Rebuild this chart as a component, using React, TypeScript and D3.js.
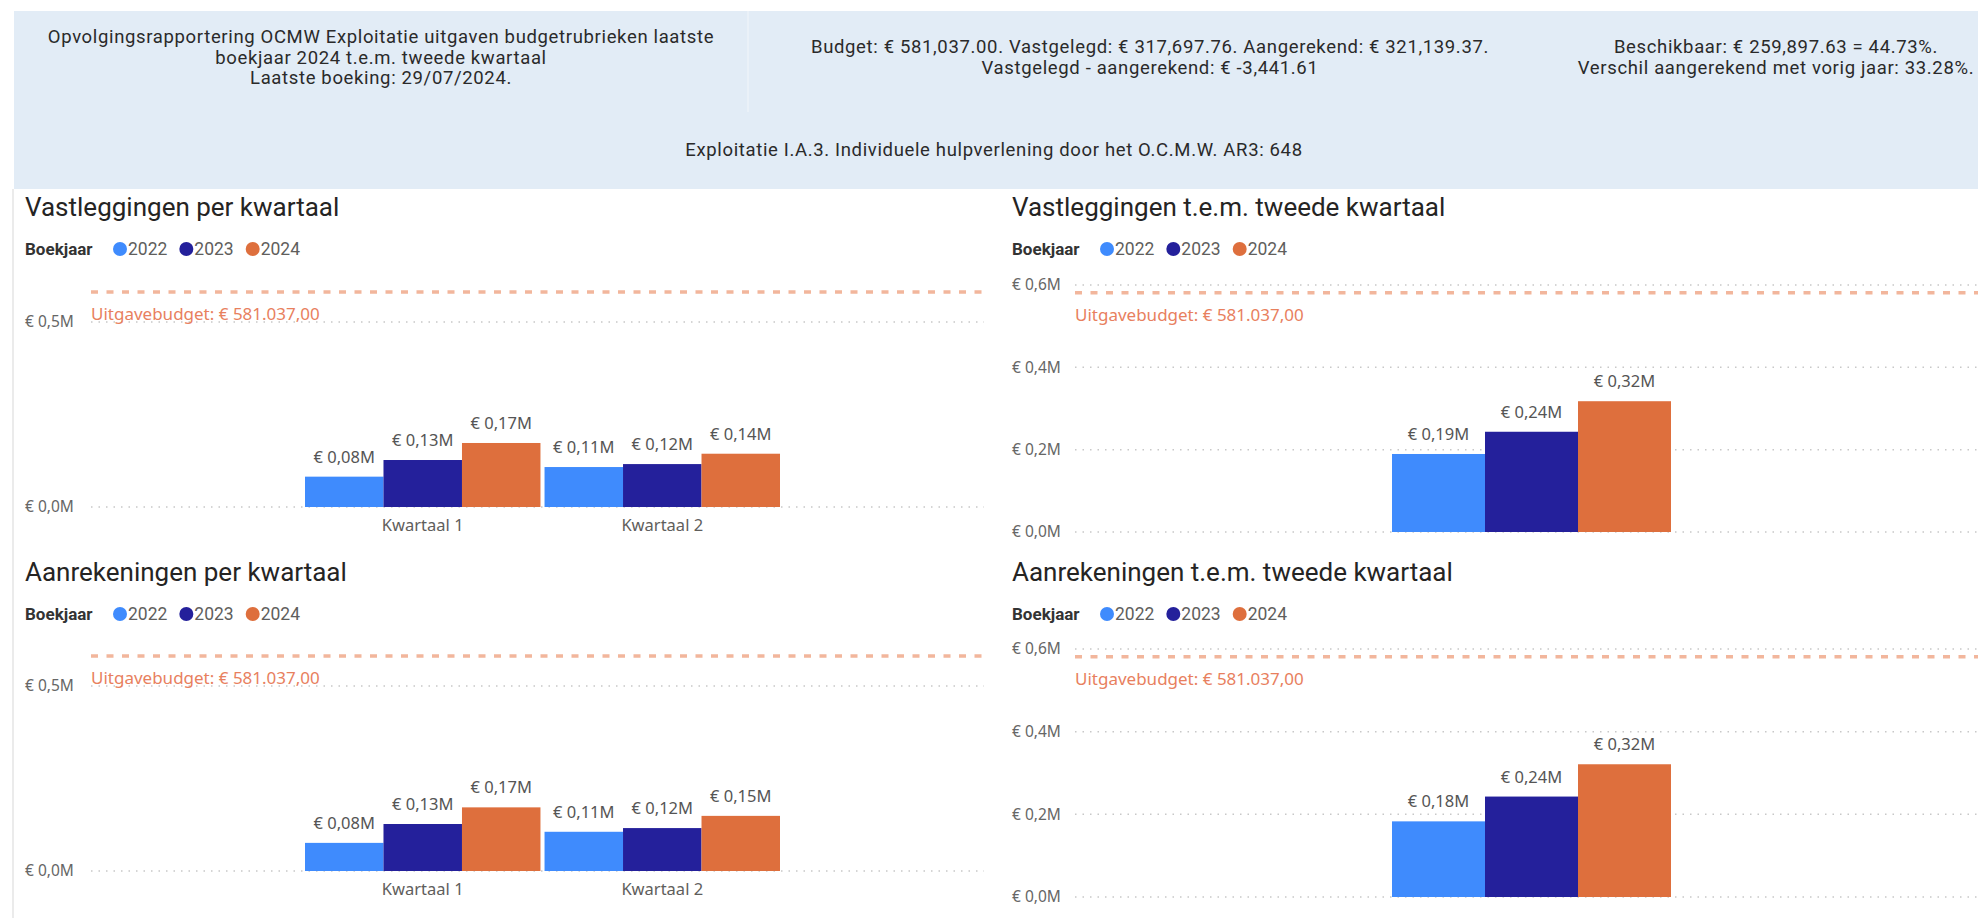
import React, { useEffect, useRef } from 'react';
import * as d3 from 'd3';

// --- data (euro) ---
const YEARS = ['2022', '2023', '2024'];
const QUARTERS = ['Kwartaal 1', 'Kwartaal 2'];
const TOTAL_CAT = ['t.e.m. Kwartaal 2'];
const COLORS = ['#3f8bfd', '#24209b', '#de6f3d'];

const BUDGET = 581037;

// vastleggingen per kwartaal (per year: Q1, Q2)
const vast2022 = [82000, 108000];
const vast2023 = [127000, 116000];
const vast2024 = [173000, 144000];
// vastleggingen t.e.m. tweede kwartaal (2022, 2023, 2024)
const vastTotal = [189500, 243500, 317698];

// aanrekeningen per kwartaal
const aanr2022 = [76000, 106000];
const aanr2023 = [127000, 116000];
const aanr2024 = [172000, 149000];
// aanrekeningen t.e.m. tweede kwartaal
const aanrTotal = [183000, 243000, 321139];

const TICKS_QUARTER = [0, 500000];
const TICKS_TOTAL = [0, 200000, 400000, 600000];

const HEADER_LEFT = [
  'Opvolgingsrapportering OCMW Exploitatie uitgaven budgetrubrieken laatste',
  'boekjaar 2024 t.e.m. tweede kwartaal',
  'Laatste boeking: 29/07/2024.',
];
const HEADER_MID = [
  'Budget: € 581,037.00. Vastgelegd: € 317,697.76. Aangerekend: € 321,139.37.',
  'Vastgelegd - aangerekend: € -3,441.61',
];
const HEADER_RIGHT = [
  'Beschikbaar: € 259,897.63 = 44.73%.',
  'Verschil aangerekend met vorig jaar: 33.28%.',
];
const HEADER_BOTTOM = 'Exploitatie I.A.3. Individuele hulpverlening door het O.C.M.W. AR3: 648';

const W = 1978;
const H = 918;
const DIN = '"DIN", "Roboto", "Liberation Sans", sans-serif';
const SEGOE = '"Segoe UI", "Noto Sans", "Open Sans", sans-serif';

const fmtLabel = (v) => '€ ' + (v / 1e6).toFixed(2).replace('.', ',') + 'M';
const fmtTick = (v) => '€ ' + (v / 1e6).toFixed(1).replace('.', ',') + 'M';
const fmtBudget = (v) => 'Uitgavebudget: € ' + d3.format(',.2f')(v).replace(/,/g, '#').replace('.', ',').replace(/#/g, '.');

function drawPanel(svg, cfg) {
  const g = svg.append('g');

  g.append('text')
    .attr('x', cfg.left)
    .attr('y', cfg.titleY)
    .attr('font-family', DIN)
    .attr('font-size', 26)
    .attr('fill', '#252423')
    .text(cfg.title);

  // legend
  const leg = g.append('g').attr('transform', `translate(${cfg.left},${cfg.legendY})`);
  leg.append('text')
    .attr('x', 0).attr('y', 6)
    .attr('font-family', DIN).attr('font-weight', 'bold').attr('font-size', 17)
    .attr('fill', '#333').text('Boekjaar');
  let lx = 95;
  YEARS.forEach((yr, i) => {
    leg.append('circle').attr('cx', lx).attr('cy', 0).attr('r', 7).attr('fill', COLORS[i]);
    const t = leg.append('text')
      .attr('x', lx + 8).attr('y', 6)
      .attr('font-family', DIN).attr('font-size', 17.5).attr('fill', '#605e5c').text(yr);
    const w = (t.node() as SVGTextElement).getComputedTextLength();
    lx += 8 + w + 19;
  });

  const y = d3.scaleLinear().domain([0, cfg.yMax]).range([cfg.yBase, cfg.yTopPx]);

  // gridlines + tick labels
  cfg.ticks.forEach((tk) => {
    g.append('line')
      .attr('x1', cfg.plotLeft).attr('x2', cfg.plotRight)
      .attr('y1', y(tk)).attr('y2', y(tk))
      .attr('stroke', '#c8c8c8').attr('stroke-width', 1.5).attr('stroke-dasharray', '1.5 6');
    g.append('text')
      .attr('x', cfg.left).attr('y', y(tk)).attr('dy', '0.35em')
      .attr('font-family', SEGOE).attr('font-size', 15.5).attr('fill', '#666')
      .text(fmtTick(tk));
  });

  // budget line
  g.append('line')
    .attr('x1', cfg.plotLeft).attr('x2', cfg.plotRight)
    .attr('y1', y(BUDGET)).attr('y2', y(BUDGET))
    .attr('stroke', '#f2b69c').attr('stroke-width', 3.5).attr('stroke-dasharray', '7 8.5');
  g.append('text')
    .attr('x', cfg.plotLeft).attr('y', y(BUDGET) + 28)
    .attr('font-family', SEGOE).attr('font-size', 17).attr('fill', '#e8805e')
    .text(fmtBudget(BUDGET));

  // bars
  const x0 = d3.scaleBand().domain(cfg.categories).range(cfg.barRange).paddingInner(cfg.categories.length > 1 ? 0.017 : 0);
  const x1 = d3.scaleBand().domain(YEARS).range([0, x0.bandwidth()]);

  const rows = [];
  cfg.categories.forEach((cat, ci) => {
    YEARS.forEach((yr, yi) => {
      rows.push({ cat, yr, yi, value: cfg.values[yi][ci] });
    });
  });

  g.selectAll('rect.bar')
    .data(rows)
    .enter().append('rect')
    .attr('class', 'bar')
    .attr('x', (d) => x0(d.cat) + x1(d.yr))
    .attr('y', (d) => y(d.value))
    .attr('width', x1.bandwidth())
    .attr('height', (d) => y(0) - y(d.value))
    .attr('fill', (d) => COLORS[d.yi]);

  g.selectAll('text.lbl')
    .data(rows)
    .enter().append('text')
    .attr('class', 'lbl')
    .attr('x', (d) => x0(d.cat) + x1(d.yr) + x1.bandwidth() / 2)
    .attr('y', (d) => y(d.value) - 14)
    .attr('text-anchor', 'middle')
    .attr('font-family', SEGOE).attr('font-size', 16.5).attr('fill', '#555')
    .text((d) => fmtLabel(d.value));

  if (cfg.showCats) {
    cfg.categories.forEach((cat) => {
      g.append('text')
        .attr('x', x0(cat) + x0.bandwidth() / 2)
        .attr('y', cfg.yBase + 24)
        .attr('text-anchor', 'middle')
        .attr('font-family', SEGOE).attr('font-size', 16.5).attr('fill', '#605e5c')
        .text(cat);
    });
  }
}

export default function App() {
  const ref = useRef(null);

  useEffect(() => {
    const svg = d3.select(ref.current);
    svg.selectAll('*').remove();

    // header
    svg.append('rect').attr('x', 14).attr('y', 11).attr('width', W - 14).attr('height', 178).attr('fill', '#e2ecf6');
    svg.append('line').attr('x1', 748).attr('x2', 748).attr('y1', 11).attr('y2', 112).attr('stroke', '#edf3f9').attr('stroke-width', 1.5);

    const headerText = (lines, cx, y0) => {
      lines.forEach((l, i) => {
        svg.append('text')
          .attr('x', cx).attr('y', y0 + i * 20.5)
          .attr('text-anchor', 'middle')
          .attr('font-family', DIN).attr('font-size', 18.5).attr('letter-spacing', 0.65)
          .attr('fill', '#2a2a2a')
          .text(l);
      });
    };
    headerText(HEADER_LEFT, 381, 43);
    headerText(HEADER_MID, 1150, 53);
    headerText(HEADER_RIGHT, 1776, 53);
    headerText([HEADER_BOTTOM], 994, 156);

    // left border of report area
    svg.append('line').attr('x1', 13).attr('x2', 13).attr('y1', 189).attr('y2', H).attr('stroke', '#e4e4e4').attr('stroke-width', 1.5);

    drawPanel(svg, {
      title: 'Vastleggingen per kwartaal', left: 25, titleY: 216, legendY: 249,
      plotLeft: 91, plotRight: 984, yBase: 507, yMax: 500000, yTopPx: 322,
      ticks: TICKS_QUARTER, categories: QUARTERS, barRange: [305, 780],
      values: [vast2022, vast2023, vast2024], showCats: true,
    });
    drawPanel(svg, {
      title: 'Vastleggingen t.e.m. tweede kwartaal', left: 1012, titleY: 216, legendY: 249,
      plotLeft: 1075, plotRight: W, yBase: 532, yMax: 600000, yTopPx: 285,
      ticks: TICKS_TOTAL, categories: TOTAL_CAT, barRange: [1392, 1671],
      values: vastTotal.map((v) => [v]), showCats: false,
    });
    drawPanel(svg, {
      title: 'Aanrekeningen per kwartaal', left: 25, titleY: 581, legendY: 614,
      plotLeft: 91, plotRight: 984, yBase: 871, yMax: 500000, yTopPx: 686,
      ticks: TICKS_QUARTER, categories: QUARTERS, barRange: [305, 780],
      values: [aanr2022, aanr2023, aanr2024], showCats: true,
    });
    drawPanel(svg, {
      title: 'Aanrekeningen t.e.m. tweede kwartaal', left: 1012, titleY: 581, legendY: 614,
      plotLeft: 1075, plotRight: W, yBase: 897, yMax: 600000, yTopPx: 649,
      ticks: TICKS_TOTAL, categories: TOTAL_CAT, barRange: [1392, 1671],
      values: aanrTotal.map((v) => [v]), showCats: false,
    });
  }, []);

  return (
    <svg
      ref={ref}
      width={W}
      height={H}
      style={{ position: 'absolute', left: 0, top: 0, background: '#fff' }}
    />
  );
}
